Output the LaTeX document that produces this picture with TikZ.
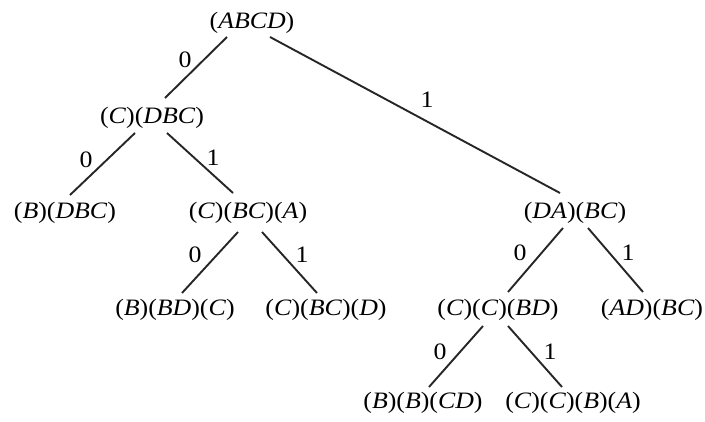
\documentclass[tikz,border=0pt]{standalone}
\usepackage{fontspec}
\setmainfont[FakeStretch=1.1]{Liberation Serif}
\usetikzlibrary{calc}
\begin{document}
\begin{tikzpicture}[x=1pt,y=1pt,
  st/.style={font=\fontsize{23.5}{28}\selectfont, inner sep=0pt, outer sep=0pt},
  lbl/.style={font=\fontsize{23.5}{28}\selectfont, inner sep=0pt},
  ln/.style={line width=1.9pt, draw=black!85}]
\useasboundingbox (0,0) rectangle (705,421);
% nodes
\node[st] (abcd) at (252,398) {(\textit{ABCD})};
\node[st] (cdbc) at (152,303) {(\textit{C})(\textit{DBC})};
\node[st] (bdbc) at (65,208) {(\textit{B})(\textit{DBC})};
\node[st] (cbca) at (248,208) {(\textit{C})(\textit{BC})(\textit{A})};
\node[st] (dabc) at (575,208) {(\textit{DA})(\textit{BC})};
\node[st] (bbdc) at (175,111) {(\textit{B})(\textit{BD})(\textit{C})};
\node[st] (cbcd) at (326,111) {(\textit{C})(\textit{BC})(\textit{D})};
\node[st] (ccbd) at (498,111) {(\textit{C})(\textit{C})(\textit{BD})};
\node[st] (adbc) at (652,111) {(\textit{AD})(\textit{BC})};
\node[st] (bbcd) at (423,18) {(\textit{B})(\textit{B})(\textit{CD})};
\node[st] (ccba) at (573,18) {(\textit{C})(\textit{C})(\textit{B})(\textit{A})};
% edges
\draw[ln] ($(abcd)+(-25,-14)$) -- ($(cdbc)+(13,20)$);
\draw[ln] ($(abcd)+(18,-14)$) -- ($(dabc)+(-15,20)$);
\draw[ln] ($(cdbc)+(-17,-15)$) -- ($(bdbc)+(5,18)$);
\draw[ln] ($(cdbc)+(15,-15)$) -- ($(cbca)+(-15,20)$);
\draw[ln] ($(cbca)+(-10,-19)$) -- ($(bbdc)+(7,17)$);
\draw[ln] ($(cbca)+(14,-19)$) -- ($(cbcd)+(-9,17)$);
\draw[ln] ($(dabc)+(-12,-15)$) -- ($(ccbd)+(10,18)$);
\draw[ln] ($(dabc)+(13,-15)$) -- ($(adbc)+(-9,18)$);
\draw[ln] ($(ccbd)+(-15,-16)$) -- ($(bbcd)+(6,16)$);
\draw[ln] ($(ccbd)+(10,-16)$) -- ($(ccba)+(-11,16)$);
% labels
\node[lbl] (l1) at (185,361) {0};
\node[lbl] (l2) at (427,321) {1};
\node[lbl] (l3) at (86,261) {0};
\node[lbl] (l4) at (213,263) {1};
\node[lbl] (l5) at (195,166) {0};
\node[lbl] (l6) at (302,166) {1};
\node[lbl] (l7) at (520,168) {0};
\node[lbl] (l8) at (628,168) {1};
\node[lbl] (l9) at (440,69) {0};
\node[lbl] (l10) at (550,69) {1};
\end{tikzpicture}
\end{document}
